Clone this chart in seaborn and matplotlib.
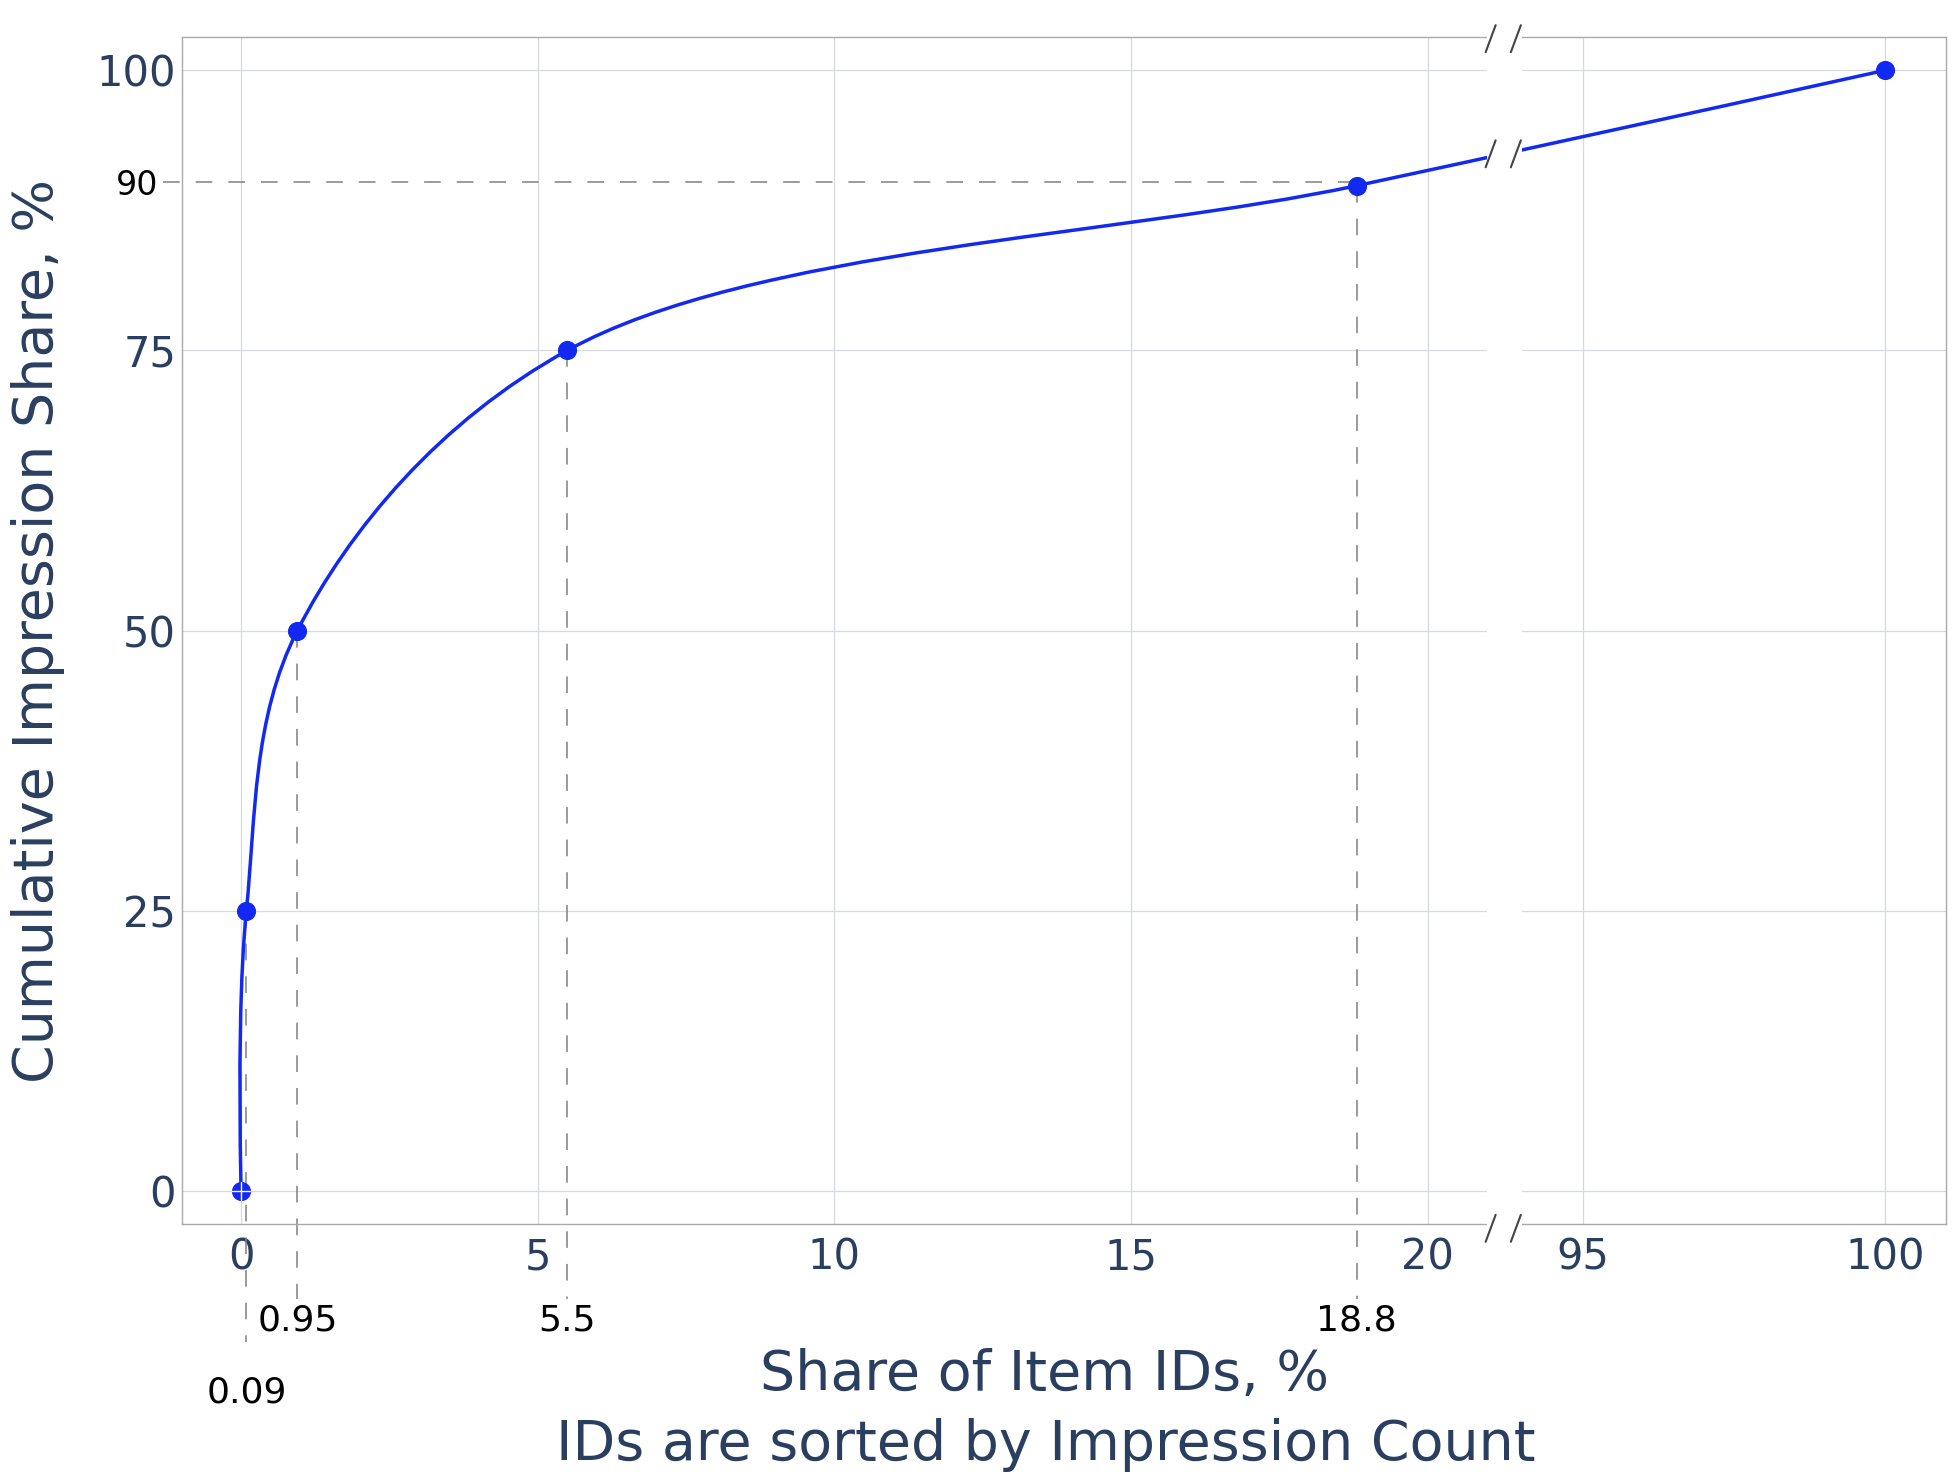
import numpy as np
import matplotlib
matplotlib.use("Agg")
import matplotlib.pyplot as plt
from matplotlib.path import Path
from matplotlib.patches import PathPatch, Rectangle
import seaborn as sns

# ---------------- data ----------------
share_ids = [0, 0.09, 0.95, 5.5, 18.8, 100]      # % of item IDs
cum_share = [0, 25, 50, 75, 89.7, 100]           # cumulative impression share, %
marked_ids = [0.09, 0.95, 5.5, 18.8]
marked_shares = [25, 50, 75, 89.7]
marked_labels = ["0.09", "0.95", "5.5", "18.8"]
x_ticks = [0, 5, 10, 15, 20, 95, 100]
x_tick_labels = ["0", "5", "10", "15", "20", "95", "100"]
y_ticks = [0, 25, 50, 75, 100]
ref_level = 90

# ---------------- style ----------------
BLUE = "#1229f2"
TXT = "#2a3f5f"
GRID = "#d6d9de"
SPINE = "#a9a9a9"
DASH = "#808080"

sns.set_theme(style="white")
plt.rcParams["font.family"] = ["DejaVu Sans"]
plt.rcParams["lines.scale_dashes"] = False

# broken x axis: [-1, 21] and [94, 101]
LEFT_END, RIGHT_START = 21.0, 94.0
GAP = 0.59
K = 1.0197


def fwd(x):
    x = np.asarray(x, dtype=float)
    return np.where(x <= LEFT_END, x,
                    np.where(x >= RIGHT_START, LEFT_END + GAP + (x - RIGHT_START) * K,
                             LEFT_END + (x - LEFT_END) * GAP / (RIGHT_START - LEFT_END)))


def inv(p):
    p = np.asarray(p, dtype=float)
    return np.where(p <= LEFT_END, p,
                    np.where(p >= LEFT_END + GAP, RIGHT_START + (p - LEFT_END - GAP) / K,
                             LEFT_END + (p - LEFT_END) * (RIGHT_START - LEFT_END) / GAP))


fig = plt.figure(figsize=(19.58, 14.78), dpi=100)
ax = fig.add_axes([0.0928, 0.17165, 0.90092, 0.80352])
ax.set_xscale("function", functions=(fwd, inv))
ax.set_xlim(-1, 101)
ax.set_ylim(-3, 103)

# grid
ax.set_xticks(x_ticks)
ax.set_xticklabels(x_tick_labels)
ax.set_yticks(y_ticks)
ax.set_yticks([ref_level], minor=True)
ax.set_yticklabels([str(ref_level)], minor=True)
ax.grid(True, which="major", color=GRID, linewidth=0.9, zorder=0)
ax.set_axisbelow(True)
ax.tick_params(axis="x", which="major", length=0, pad=9, labelsize=30, labelcolor=TXT)
ax.tick_params(axis="y", which="major", length=0, pad=4, labelsize=30, labelcolor=TXT)
ax.tick_params(axis="y", which="minor", length=0, pad=17, labelsize=24, labelcolor="black")
for s in ax.spines.values():
    s.set_color(SPINE)
    s.set_linewidth(1.0)

# markers
sns.scatterplot(x=share_ids, y=cum_share, ax=ax, color=BLUE, s=190,
                linewidth=0, zorder=4, legend=False)
ax.set_xlim(-1, 101)
ax.set_ylim(-3, 103)
ax.set_xlabel("")
ax.set_ylabel("")

# smooth spline (plotly-like catmull-rom in display space)
fig.canvas.draw()
pts = ax.transData.transform(np.column_stack([share_ids, cum_share]))


def make_tangent(prev, cur, nxt, smooth=1.0):
    d1 = prev - cur
    d2 = nxt - cur
    d1a = np.hypot(*d1) ** 0.5
    d2a = np.hypot(*d2) ** 0.5
    num = (d2a * d2a * d1 - d1a * d1a * d2) * smooth
    den1 = 3 * d2a * (d1a + d2a)
    den2 = 3 * d1a * (d1a + d2a)
    return cur + num / den1, cur - num / den2


tans = [make_tangent(pts[i - 1], pts[i], pts[i + 1]) for i in range(1, len(pts) - 1)]
verts = [pts[0], tans[0][0], pts[1]]
codes = [Path.MOVETO, Path.CURVE3, Path.CURVE3]
for i in range(2, len(pts) - 1):
    verts += [tans[i - 2][1], tans[i - 1][0], pts[i]]
    codes += [Path.CURVE4] * 3
verts += [tans[-1][1], pts[-1]]
codes += [Path.CURVE3] * 2
verts = np.array(verts)
data_verts = ax.transData.inverted().transform(verts)
curve = PathPatch(Path(data_verts, codes), transform=ax.transData, fill=False,
                  edgecolor=BLUE, linewidth=2.5, zorder=3, capstyle="round")
ax.add_patch(curve)

# white cross on the origin marker
ax.plot([-0.15, 0.15], [0, 0], color="white", lw=1.0, zorder=4.5)
ax.plot([0, 0], [-0.8, 0.8], color="white", lw=1.0, zorder=4.5)

# reference dashed lines
dash_style = (0, (12, 11.5))
ax.plot([-1.32, 18.8], [ref_level, ref_level], color=DASH, lw=1.1,
        linestyle=dash_style, clip_on=False, zorder=2)
for xv, yv, lab in zip(marked_ids, marked_shares, marked_labels):
    low = -13.5 if lab == "0.09" else -9.7
    ypos = -18.0 if lab == "0.09" else -11.6
    ax.plot([xv, xv], [yv, low], color=DASH, lw=1.1, linestyle=dash_style,
            clip_on=False, zorder=2)
    ax.text(xv, ypos, lab, ha="center", va="center", fontsize=26, color="black",
            clip_on=False)

# axis break: white gap with // marks
gx0, gx1 = fwd(LEFT_END), fwd(LEFT_END) + GAP
gx0_d = float(inv(gx0))
gx1_d = float(inv(gx1))
trans_x = ax.get_xaxis_transform()
ax.add_patch(Rectangle((gx0_d, -0.012), gx1_d - gx0_d, 1.024, transform=trans_x,
                       facecolor="white", edgecolor="none", zorder=5, clip_on=False))

# line height at the gap (last quadratic segment)
P0, C, P1 = verts[-3], verts[-2], verts[-1]
tt = np.linspace(0, 1, 2001)
bx = (1 - tt) ** 2 * P0[0] + 2 * (1 - tt) * tt * C[0] + tt ** 2 * P1[0]
by = (1 - tt) ** 2 * P0[1] + 2 * (1 - tt) * tt * C[1] + tt ** 2 * P1[1]
dx0 = ax.transData.transform([[gx0_d, 0]])[0][0]
dx1 = ax.transData.transform([[gx1_d, 0]])[0][0]
ymid = np.interp((dx0 + dx1) / 2, bx, by)
ax_bottom = ax.transAxes.transform([[0, 0]])[0][1]
ax_top = ax.transAxes.transform([[0, 1]])[0][1]
w, h = 10, 27
to_ax = ax.transAxes.inverted()
for cy in (ax_top - 2, ymid, ax_bottom - 4):
    for cx in (dx0 + 0.1 * (dx1 - dx0), dx0 + 0.82 * (dx1 - dx0)):
        seg = to_ax.transform([[cx - w / 2, cy - h / 2], [cx + w / 2, cy + h / 2]])
        ax.plot(seg[:, 0], seg[:, 1], transform=ax.transAxes, color="#444444",
                lw=1.5, clip_on=False, zorder=6)

# titles
fig.text(0.0195, 0.5733, "Cumulative Impression Share, %", rotation=90,
         ha="center", va="center", fontsize=40, color=TXT)
fig.text(0.5337, 0.0697, "Share of Item IDs, %", ha="center", va="center",
         fontsize=40, color=TXT)
fig.text(0.5342, 0.0223, "IDs are sorted by Impression Count", ha="center",
         va="center", fontsize=40, color=TXT)

fig.savefig("out.png", dpi=100, facecolor="white")
